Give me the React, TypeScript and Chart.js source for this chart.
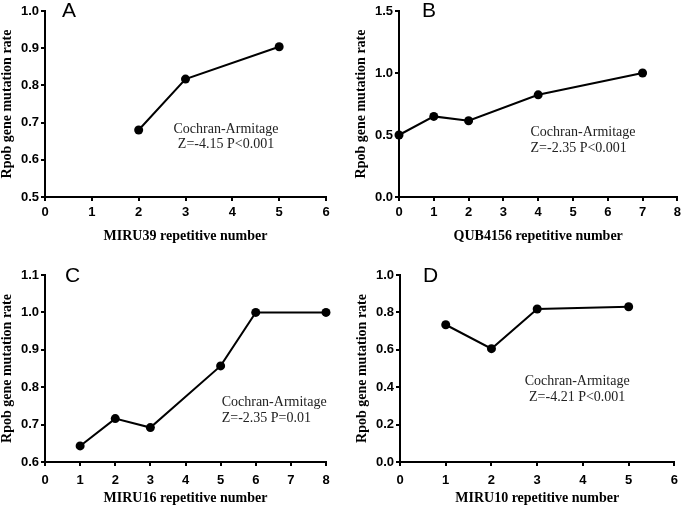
import React, { useEffect, useRef } from "react";
import { Chart, registerables } from "chart.js";

Chart.register(...registerables);

// ---- Data ----
const miru39X = [2, 3, 5];
const miru39Y = [0.68, 0.817, 0.904];

const qub4156X = [0, 1, 2, 4, 7];
const qub4156Y = [0.5, 0.65, 0.615, 0.824, 1.0];

const miru16X = [1, 2, 3, 5, 6, 8];
const miru16Y = [0.643, 0.716, 0.692, 0.857, 1.0, 1.0];

const miru10X = [1, 2, 3, 5];
const miru10Y = [0.734, 0.606, 0.818, 0.83];

const yTitle = "Rpob gene mutation rate";
const xTitles = [
  "MIRU39 repetitive number",
  "QUB4156 repetitive number",
  "MIRU16 repetitive number",
  "MIRU10 repetitive number",
];
const panelLetters = ["A", "B", "C", "D"];
const statLines = [
  ["Cochran-Armitage", "Z=-4.15 P<0.001"],
  ["Cochran-Armitage", "Z=-2.35 P<0.001"],
  ["Cochran-Armitage", "Z=-2.35 P=0.01"],
  ["Cochran-Armitage", "Z=-4.21 P<0.001"],
];

type Panel = {
  xs: number[];
  ys: number[];
  xMax: number;
  yMin: number;
  yMax: number;
  yStep: number;
  left: number;
  top: number;
  width: number;
  height: number;
  padRight: number;
  xAxisH: number;
  tickPad: number;
  letterDx: number;
  letterBaseline: number;
  statAt: [number, number];
  statAlign: "center" | "left";
};

const panels: Panel[] = [
  { xs: miru39X, ys: miru39Y, xMax: 6, yMin: 0.5, yMax: 1.0, yStep: 0.1,
    left: 0, top: 0, width: 342, height: 243, padRight: 16, xAxisH: 46, tickPad: 4,
    letterDx: 17, letterBaseline: 17, statAt: [3.865, 0.683], statAlign: "center" },
  { xs: qub4156X, ys: qub4156Y, xMax: 8, yMin: 0, yMax: 1.5, yStep: 0.5,
    left: 354, top: 0, width: 331, height: 243, padRight: 4, xAxisH: 46, tickPad: 4,
    letterDx: 23, letterBaseline: 17, statAt: [3.78, 0.52], statAlign: "left" },
  { xs: miru16X, ys: miru16Y, xMax: 8, yMin: 0.6, yMax: 1.1, yStep: 0.1,
    left: 0, top: 264, width: 342, height: 241, padRight: 16, xAxisH: 43, tickPad: 7,
    letterDx: 20, letterBaseline: 18, statAt: [5.03, 0.759], statAlign: "left" },
  { xs: miru10X, ys: miru10Y, xMax: 6, yMin: 0, yMax: 1.0, yStep: 0.2,
    left: 355, top: 264, width: 330, height: 241, padRight: 3, xAxisH: 43, tickPad: 7,
    letterDx: 23, letterBaseline: 18, statAt: [3.875, 0.43], statAlign: "center" },
];

function PanelChart({ idx }: { idx: number }) {
  const ref = useRef<HTMLCanvasElement | null>(null);
  const p = panels[idx];
  useEffect(() => {
    if (!ref.current) return;
    const overlay = {
      id: "overlay" + idx,
      afterDraw(chart: any) {
        const ctx = chart.ctx;
        const xs = chart.scales.x;
        const ys = chart.scales.y;
        ctx.save();
        ctx.fillStyle = "#000";
        ctx.font = '21px "Liberation Sans", Arial, sans-serif';
        ctx.textAlign = "left";
        ctx.textBaseline = "alphabetic";
        ctx.fillText(panelLetters[idx], chart.chartArea.left + p.letterDx, p.letterBaseline);
        ctx.font = '14px "Liberation Serif", "Times New Roman", serif';
        ctx.fillStyle = "#222";
        ctx.textAlign = p.statAlign;
        ctx.textBaseline = "middle";
        const px = xs.getPixelForValue(p.statAt[0]);
        const py = ys.getPixelForValue(p.statAt[1]);
        statLines[idx].forEach((t, i) => ctx.fillText(t, px, py + i * 15.5));
        ctx.restore();
      },
    };
    const chart = new Chart(ref.current, {
      type: "line",
      data: {
        datasets: [
          {
            data: p.xs.map((x, i) => ({ x, y: p.ys[i] })),
            borderColor: "#000",
            backgroundColor: "#000",
            borderWidth: 2,
            pointRadius: 4.5,
            pointBorderWidth: 0,
            pointBackgroundColor: "#000",
            tension: 0,
            clip: false as any,
          },
        ],
      },
      options: {
        animation: false,
        responsive: false,
        events: [],
        layout: { padding: { top: 11, right: p.padRight, left: 0, bottom: 0 } },
        plugins: { legend: { display: false }, tooltip: { enabled: false } },
        scales: {
          x: {
            type: "linear",
            min: 0,
            max: p.xMax,
            afterFit: (s: any) => { s.height = p.xAxisH; },
            ticks: {
              stepSize: 1,
              color: "#000",
              padding: p.tickPad,
              font: { family: '"Liberation Sans", Arial, sans-serif', size: 13, weight: "bold" },
              maxRotation: 0,
            },
            grid: { drawOnChartArea: false, drawTicks: true, tickLength: 4, color: "#000", lineWidth: 2 },
            border: { display: true, color: "#000", width: 2 },
            title: {
              display: true,
              text: xTitles[idx],
              color: "#000",
              padding: 0,
              font: { family: '"Liberation Serif", "Times New Roman", serif', size: 14, weight: "bold", lineHeight: 1 },
            },
          },
          y: {
            type: "linear",
            min: p.yMin,
            max: p.yMax,
            afterFit: (s: any) => { s.width = 45; },
            ticks: {
              stepSize: p.yStep,
              color: "#000",
              padding: 2,
              callback: (v: any) => Number(v).toFixed(1),
              font: { family: '"Liberation Sans", Arial, sans-serif', size: 13, weight: "bold" },
            },
            grid: { drawOnChartArea: false, drawTicks: true, tickLength: 4, color: "#000", lineWidth: 2 },
            border: { display: true, color: "#000", width: 2 },
            title: {
              display: true,
              text: yTitle,
              color: "#000",
              padding: 0,
              font: { family: '"Liberation Serif", "Times New Roman", serif', size: 14, weight: "bold", lineHeight: 1 },
            },
          },
        },
      },
      plugins: [overlay],
    });
    return () => chart.destroy();
  }, [idx]);
  return (
    <canvas
      ref={ref}
      width={p.width}
      height={p.height}
      style={{ position: "absolute", left: p.left, top: p.top, width: p.width, height: p.height }}
    />
  );
}

export default function App() {
  return (
    <div style={{ position: "absolute", left: 0, top: 0, width: 685, height: 509, background: "#fff", overflow: "hidden" }}>
      {panels.map((_, i) => (
        <PanelChart key={i} idx={i} />
      ))}
    </div>
  );
}
